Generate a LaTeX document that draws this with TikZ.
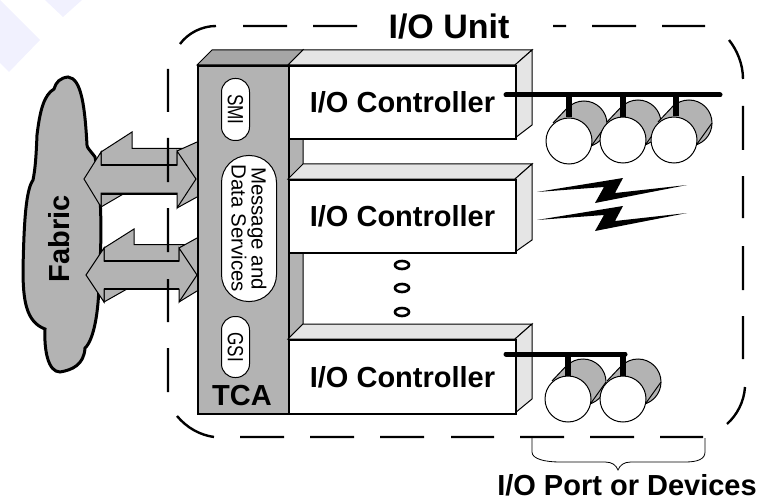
\documentclass[tikz,border=0pt]{standalone}
\usepackage{fontspec}
\setmainfont{Liberation Sans}
\definecolor{midgray}{HTML}{B3B3B3}
\definecolor{topgray}{HTML}{A6A6A6}
\definecolor{lightgray}{HTML}{E5E5E5}
\definecolor{marklav}{HTML}{F1F1FE}
\tikzset{
  bigtext/.style={font=\bfseries\fontsize{29}{31}\selectfont,inner sep=0pt},
  pilltext/.style={font=\fontsize{22}{19}\selectfont,inner sep=0pt,rotate=-90,xscale=0.78,align=center},
  pill/.style={draw,fill=white,line width=1pt,rounded corners=13.5pt},
  face/.style={draw,line width=1pt,fill=lightgray},
  arrowface/.style={draw,line width=1pt,fill=midgray},
  busline/.style={line width=5pt,line cap=round},
  stub/.style={line width=6pt},
  dashline/.style={line width=2.4pt},
  disc/.pic={
    \draw[line width=1pt,fill=midgray] (15,-17) circle[radius=23];
    \fill[midgray] (-16,-18)--(1,-36)--(38,-17)--(23,4)--cycle;
    \draw[line width=1pt] (-16,-18)--(1,-36) (23,4)--(38,-17);
    \draw[line width=1pt,fill=white] (0,0) circle[radius=23];
  }
}
\begin{document}
\begin{tikzpicture}[x=1pt,y=-1pt]
  \useasboundingbox (0,0) rectangle (763,500);
  % watermark corner
  \fill[marklav] (0,0)--(40,40)--(9,72)--(0,63)--cycle;
  \fill[marklav] (45,0)--(63,17)--(82,0)--cycle;
  % fabric cloud
  \draw[line width=3pt,fill=midgray] (68,77) .. controls (60,78) and (56,82) .. (54,89)
    .. controls (44,95) and (40,110) .. (37,135) .. controls (36,160) and (35,170) .. (33,180)
    .. controls (26,190) and (24,220) .. (23,270) .. controls (23,300) and (26,322) .. (45,329)
    .. controls (44,350) and (48,372) .. (60,372) .. controls (72,370) and (84,365) .. (85,348)
    .. controls (94,340) and (99,310) .. (99,280) .. controls (102,240) and (102,190) .. (95,157)
    .. controls (90,150) and (87,148) .. (87,145) .. controls (85,110) and (82,78) .. (68,77) -- cycle;
  % arrows, back faces first
  \draw[arrowface] (101,165)--(101,152)--(132,132)--(132,148.5)--(185,148.5)--(177,152)--(177,165)--cycle;
  \fill[midgray] (177,151)--(197,142)--(197,197)--(177,208)--cycle;
  \draw[line width=1pt] (177,151)--(197,142) (177,208)--(197,197);
  \draw[arrowface] (101,193)--(125,193)--(101,207)--cycle;
  \draw[arrowface] (84,179)--(101,152)--(101,165)--(177,165)--(177,151)--(196,179)--(177,208)--(177,193)--(101,193)--(101,207)--cycle;
  \draw[line width=2pt] (101,165)--(177,165);
  \draw[line width=2pt] (101,193.5)--(177,193.5);
  \draw[arrowface] (104,261)--(104,248)--(134,229)--(134,244.5)--(187,244.5)--(179,248)--(179,261)--cycle;
  \fill[midgray] (179,248)--(197,238)--(197,291)--(179,302)--cycle;
  \draw[line width=1pt] (179,248)--(197,238) (179,302)--(197,291);
  \draw[arrowface] (104,289)--(127,289)--(104,302)--cycle;
  \draw[arrowface] (86,275)--(104,248)--(104,261)--(179,261)--(179,248)--(197,275)--(179,302)--(179,289)--(104,289)--(104,302)--cycle;
  \draw[line width=2pt] (104,261)--(179,261);
  \draw[line width=2pt] (104,289)--(179,289);
  % dashed unit outline
  \draw[dashline] (180,44) .. controls (188,33) and (202,26) .. (216,26) (243,26)--(287,26) (313,26)--(357,26)
    (553,26)--(566,26) (592,26)--(636,26) (662,26)--(705,26) (729,40) .. controls (737,50) and (743,64) .. (743,79)
    (743,106)--(743,150) (743,176)--(743,218) (743,246)--(743,290) (743,316)--(743,359)
    (745,387) .. controls (744,402) and (737,415) .. (727,424)
    (660,437)--(703,437) (590,437)--(634,437) (520,437)--(564,437) (451,437)--(494,437)
    (380,437)--(424,437) (310,437)--(354,437) (240,437)--(284,437)
    (214,437) .. controls (200,435) and (187,428) .. (177,416)
    (168,348)--(168,392) (168,279)--(168,322) (168,208)--(168,252) (168,138)--(168,182) (168,69)--(168,112);
  \node[bigtext,font=\bfseries\fontsize{34}{36}\selectfont] (unitlabel) at (449,27) {I/O Unit};
  % target adapter
  \draw[line width=1pt,fill=midgray] (288,65)--(303,50)--(303,324)--(288,339)--cycle;
  \draw[line width=1pt,fill=topgray] (197,65)--(212,50)--(303,50)--(288,65)--cycle;
  \node[draw,line width=2pt,fill=midgray,minimum width=91pt,minimum height=348pt,anchor=north west,inner sep=0pt] (tca) at (197,65) {};
  \node[pill,minimum width=28pt,minimum height=62pt,anchor=north west] (smi) at (221,78) {};
  \node[pilltext] at (smi) {SMI};
  \node[pill,rounded corners=27pt,minimum width=55pt,minimum height=146pt,anchor=north west] (msg) at (221,155) {};
  \node[pilltext,xscale=1.28,font=\fontsize{20.5}{19}\selectfont] at (msg) {Message and\\Data Services};
  \node[pill,minimum width=28pt,minimum height=61pt,anchor=north west] (gsi) at (221,316) {};
  \node[pilltext] at (gsi) {GSI};
  \node[bigtext] at (242,396) {TCA};
  \node[bigtext,rotate=90] at (59,239) {Fabric};
  % controllers
  \draw[face] (288,65)--(303,50)--(532,50)--(515,65)--cycle;
  \draw[face] (515,65)--(532,50)--(532,125)--(515,138)--cycle;
  \node[draw,line width=2pt,fill=white,minimum width=227pt,minimum height=73pt,anchor=north west,inner sep=0pt] (ctrla) at (288,65) {};
  \node[bigtext] at (ctrla) {I/O Controller};
  \draw[face] (288,179)--(303,164)--(532,164)--(515,179)--cycle;
  \draw[face] (515,179)--(532,164)--(532,240)--(515,252)--cycle;
  \node[draw,line width=2pt,fill=white,minimum width=227pt,minimum height=73pt,anchor=north west,inner sep=0pt] (ctrlb) at (288,179) {};
  \node[bigtext] at (ctrlb) {I/O Controller};
  \draw[face] (288,339)--(303,324)--(532,324)--(515,339)--cycle;
  \draw[face] (515,339)--(532,324)--(532,399)--(515,413)--cycle;
  \node[draw,line width=2pt,fill=white,minimum width=227pt,minimum height=74pt,anchor=north west,inner sep=0pt] (ctrlc) at (288,339) {};
  \node[bigtext] at (ctrlc) {I/O Controller};
  % dots between controllers
  \draw[line width=2.6pt] (402,265) ellipse[x radius=7,y radius=4];
  \draw[line width=2.6pt] (402,288) ellipse[x radius=7,y radius=4];
  \draw[line width=2.6pt] (402,312) ellipse[x radius=7,y radius=4];
  % devices on the upper bus
  \pic at (569,141) {disc};
  \pic at (623,140) {disc};
  \pic at (674,140) {disc};
  \coordinate (busa) at (506,95);
  \coordinate (busb) at (720,95);
  \draw[busline] (busa)--(busb);
  \draw[stub] (569,95)--(569,117);
  \draw[stub] (623,95)--(623,117);
  \draw[stub] (676,95)--(676,116);
  % radio links
  \fill (537,192)--(623,178)--(615,193)--(687,185)--(595,203)--(604,187)--cycle;
  \fill (537,220)--(623,206)--(615,221)--(687,213)--(595,231)--(604,215)--cycle;
  % devices on the lower bus
  \pic at (568,399) {disc};
  \pic at (623,399) {disc};
  \coordinate (busc) at (506,354);
  \coordinate (busd) at (625,354);
  \draw[busline] (busc)--(busd);
  \draw[stub] (568,354)--(568,376);
  \draw[stub] (623,354)--(623,376);
  % bracket under the devices
  \draw[line width=0.8pt] (532,438)--(532,452) .. controls (532,459) and (545,462) .. (560,462)--(605,462)
    .. controls (612,462) and (616,465) .. (618,470) .. controls (620,465) and (624,462) .. (631,462)
    --(685,462) .. controls (698,462) and (705,459) .. (705,452)--(705,438);
  \node[bigtext] (portlabel) at (627,485) {I/O Port or Devices};
\end{tikzpicture}
\end{document}
